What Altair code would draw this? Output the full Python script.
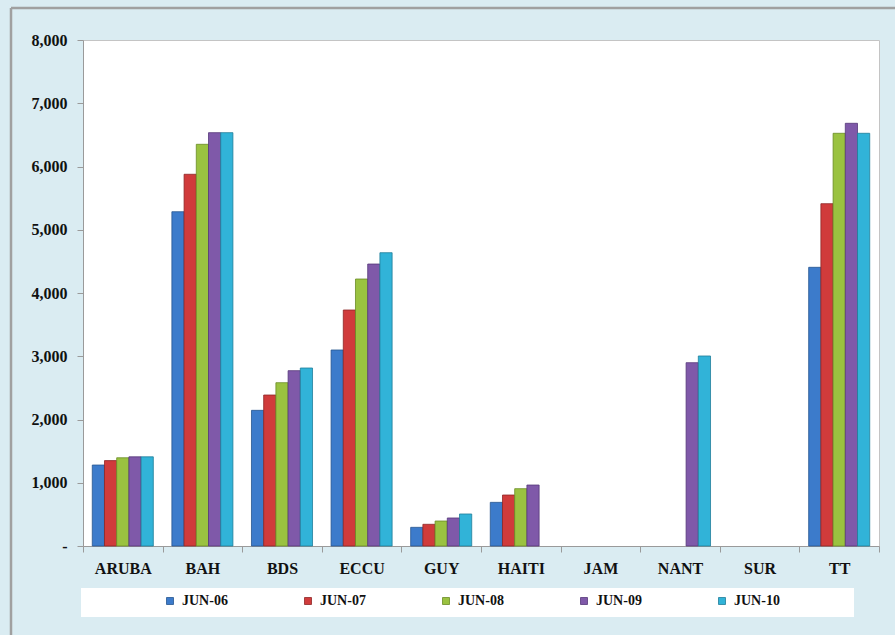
import altair as alt
import pandas as pd

categories = ["ARUBA", "BAH", "BDS", "ECCU", "GUY", "HAITI", "JAM", "NANT", "SUR", "TT"]
series = ["JUN-06", "JUN-07", "JUN-08", "JUN-09", "JUN-10"]
jun06 = [1280, 5285, 2145, 3099, 295, 690, None, None, None, 4406]
jun07 = [1350, 5877, 2387, 3731, 343, 806, None, None, None, 5412]
jun08 = [1395, 6351, 2582, 4221, 395, 906, None, None, None, 6525]
jun09 = [1410, 6535, 2772, 4458, 443, 964, None, 2898, None, 6683]
jun10 = [1410, 6535, 2814, 4637, 506, None, None, 3004, None, 6525]
y_ticks = [0, 1000, 2000, 3000, 4000, 5000, 6000, 7000, 8000]

colors = ["#3C7BCB", "#D03B3B", "#9AC240", "#7F59A9", "#31B3D8"]
edges = ["#26558F", "#8E2626", "#6A8B25", "#55377A", "#1F7E99"]

rows = []
for s, vals in zip(series, [jun06, jun07, jun08, jun09, jun10]):
    for c, v in zip(categories, vals):
        if v is not None:
            rows.append({"cat": c, "series": s, "value": v})
df = pd.DataFrame(rows)

FONT = "Liberation Serif"

bars = alt.Chart(df).mark_bar(strokeWidth=0.8).encode(
    x=alt.X("cat:N", sort=categories,
            scale=alt.Scale(domain=categories, paddingInner=0, paddingOuter=0),
            axis=alt.Axis(title=None, labelAngle=0, tickBand="extent", tickSize=6,
                          tickColor="#9a9a9a", domainColor="#9a9a9a",
                          labelFont=FONT, labelFontSize=16, labelFontWeight="bold",
                          labelColor="#111111", labelPadding=8)),
    xOffset=alt.XOffset("series:N", sort=series,
                        scale=alt.Scale(domain=series, paddingInner=0, paddingOuter=0.76)),
    y=alt.Y("value:Q", scale=alt.Scale(domain=[0, 8000], nice=False),
            axis=alt.Axis(title=None, values=y_ticks, grid=False, tickSize=6,
                          tickColor="#9a9a9a", domainColor="#9a9a9a",
                          labelFont=FONT, labelFontSize=16, labelFontWeight="bold",
                          labelColor="#111111", labelPadding=10,
                          labelExpr="datum.value == 0 ? '-' : format(datum.value, ',')")),
    color=alt.Color("series:N", sort=series,
                    scale=alt.Scale(domain=series, range=colors),
                    legend=alt.Legend(title=None, orient="none", direction="horizontal",
                                      columns=5, legendX=80, legendY=554,
                                      symbolType="square", symbolSize=49,
                                      symbolStrokeWidth=0.8, symbolStrokeColor="#555555",
                                      labelFont=FONT, labelFontSize=14, labelFontWeight="bold",
                                      labelColor="#111111", labelOffset=5,
                                      columnPadding=73, padding=0)),
    stroke=alt.Stroke("series:N", sort=series,
                      scale=alt.Scale(domain=series, range=edges), legend=None),
)

one = pd.DataFrame({"k": [0]})
legend_box = alt.Chart(one).mark_rect(fill="white").encode(
    x=alt.value(-2), x2=alt.value(771), y=alt.value(548), y2=alt.value(577)
)
frame_left = alt.Chart(one).mark_rule(color="#a0a0a0", strokeWidth=2.5).encode(
    x=alt.value(-72), y=alt.value(-32), y2=alt.value(600)
)
frame_top = alt.Chart(one).mark_rule(color="#a0a0a0", strokeWidth=2.5).encode(
    x=alt.value(-72), x2=alt.value(820), y=alt.value(-32)
)

chart = alt.layer(frame_left, frame_top, legend_box, bars).properties(
    width=796, height=506,
    autosize=alt.AutoSizeParams(type="none"),
    padding={"left": 83, "top": 40, "right": 16, "bottom": 89},
    background="#DAECF2",
).configure_view(fill="white", stroke="#c4c4c4", strokeWidth=1)

chart.save("out.html", embed_options={"renderer": "svg", "actions": False})
